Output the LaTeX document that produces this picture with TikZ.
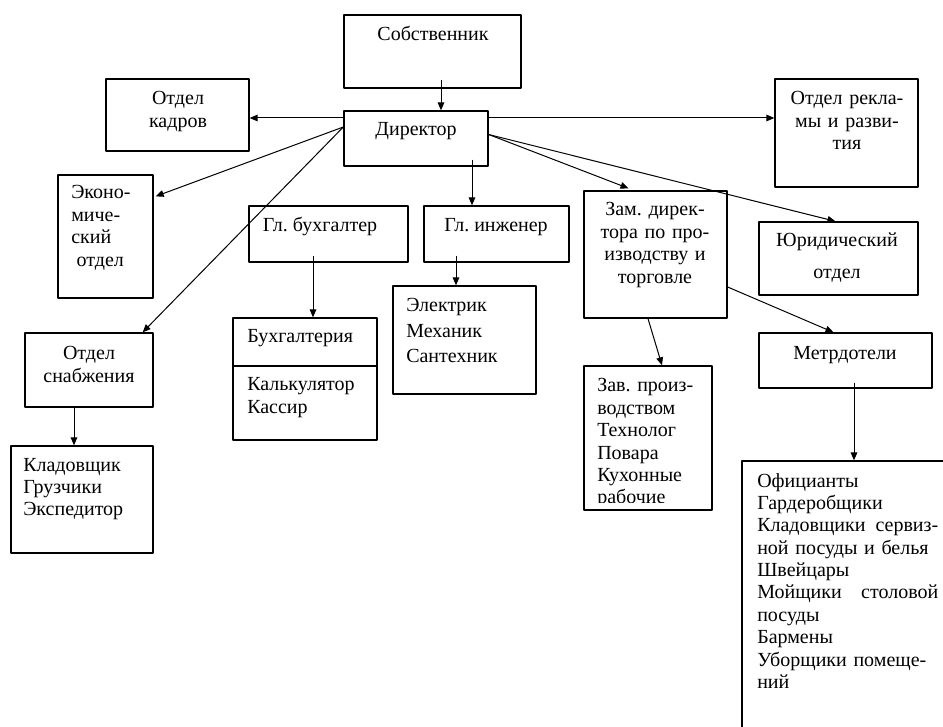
\documentclass[tikz,border=0pt]{standalone}
\usepackage{fontspec}
\setmainfont{Liberation Serif}
\usetikzlibrary{arrows.meta,calc,fit}
\tikzset{
	box/.style={draw, line width=1pt, inner sep=0pt},
	txt/.style={inner sep=0pt, font=\fontsize{15pt}{16.8pt}\selectfont\frenchspacing},
	link/.style={-{Triangle[length=6pt,width=5pt]}, line width=0.75pt},
}
\begin{document}
\begin{tikzpicture}[x=0.75pt, y=-0.75pt, line join=round]
		\useasboundingbox (0,0) rectangle (943,727);
		\clip (0,0) rectangle (943,727);
		\node[box, fit={(344,15) (521,88)}] (own) {};
		\node[box, fit={(344,111) (488,166)}] (dir) {};
		\node[box, fit={(106,79) (249,151)}] (kadr) {};
		\node[box, fit={(775,79) (918,187)}] (rekl) {};
		\node[box, fit={(58,175) (153,298)}] (econ) {};
		\node[box, fit={(249,206) (408,262)}] (glbuh) {};
		\node[box, fit={(424,206) (569,262)}] (glinzh) {};
		\node[box, fit={(584,191) (727,318)}] (zam) {};
		\node[box, fit={(759,222) (918,295)}] (yur) {};
		\node[box, fit={(25,333) (153,407)}] (snab) {};
		\node[box, fit={(233,318) (377,366)}] (buh) {};
		\node[box, fit={(233,366) (377,440)}] (buhstaff) {};
		\node[box, fit={(393,286) (536,394)}] (engst) {};
		\node[box, fit={(11,446) (153,553)}] (sklad) {};
		\node[box, fit={(584,366) (712,510)}] (zav) {};
		\node[box, fit={(759,333) (932,388)}] (metr) {};
		\node[box, fit={(742,461) (952,760)}] (ofic) {};
		\node[txt, anchor=base] (ownt) at (433,41) {Собственник};
		\node[txt, anchor=base] (dirt) at (416,136) {Директор};
		\node[txt, anchor=base, align=center, text width=100pt] (kadrt) at (178,105) {Отдел\\кадров};
		\node[txt, anchor=base, align=center, text width=100pt] (reklt) at (847,105) {Отдел рекла-\\мы и разви-\\тия};
		\node[txt, anchor=base west, align=left, text width=65pt] (econt) at (71,199) {Эконо-\\миче-\\ский\\\hspace*{4pt}отдел};
		\node[txt, anchor=base] (glbuht) at (320,232) {Гл. бухгалтер};
		\node[txt, anchor=base] (glinzht) at (496,232) {Гл. инженер};
		\node[txt, anchor=base, align=center, text width=100pt] (zamt) at (655,216) {Зам. дирек-\\тора по про-\\изводству и\\торговле};
		\node[txt, anchor=base, align=center, text width=110pt] (yurt) at (837,247) {Юридический\\[7pt]отдел};
		\node[txt, anchor=base, align=center, text width=90pt] (snabt) at (89,360) {Отдел\\снабжения};
		\node[txt, anchor=base west] (buht) at (247,343) {Бухгалтерия};
		\node[txt, anchor=base west, align=left, text width=100pt] (buhstafft) at (247,391) {Калькулятор\\Кассир};
		\node[txt, anchor=base west, align=left, text width=100pt] (engstt) at (406,312) {Электрик\\[2pt]Механик\\[2pt]Сантехник};
		\node[txt, anchor=base west, align=left, text width=100pt] (skladt) at (23,471) {Кладовщик\\Грузчики\\Экспедитор};
		\begin{scope}
		\clip (584,366) rectangle (712,502);
		\node[txt, anchor=base west, align=left, text width=90pt] (zavt) at (597,392) {Зав. произ-\\водством\\Технолог\\Повара\\Кухонные\\рабочие};
		\end{scope}
		\node[txt, anchor=base] (metrt) at (845,360) {Метрдотели};
		\node[txt, anchor=base west, align=left, text width=135.75pt] (ofict) at (757,487) {Официанты\\Гардеробщики\\Кладовщики\hfill сервиз-\\ной посуды и белья\\Швейцары\\Мойщики\hfill столовой\\посуды\\Бармены\\Уборщики помеще-\\ний};
		\draw[link] ($(own.south)+(8.5,-9)$) coordinate (p) -- (p |- dir.north);
		\draw[link] ($(dir.west)+(0,-20.5)$) coordinate (p) -- (p -| kadr.east);
		\draw[link] ($(dir.east)+(0,-20.5)$) coordinate (p) -- (p -| rekl.west);
		\draw[link] ($(dir.west)+(0,-11.5)$) -- ($(econ.north east)+(2,22)$);
		\draw[link] ($(dir.west)+(0,-11.5)$) -- ($(snab.north east)+(-11,0)$);
		\draw[link] ($(dir.south)+(56,-7)$) coordinate (p) -- (p |- glinzh.north);
		\draw[link] ($(dir.east)+(0,-4)$) -- ($(zam.north)+(-27,-2)$);
		\draw[link] ($(dir.east)+(0,-4)$) -- ($(yur.north)+(-3,0)$);
		\draw[link] ($(glbuh.south)+(-15.5,-7)$) coordinate (p) -- (p |- buh.north);
		\draw[link] ($(glinzh.south)+(-40.5,-7)$) coordinate (p) -- (p |- engst.north);
		\draw[link] ($(snab.south)+(-15,-1)$) coordinate (p) -- (p |- sklad.north);
		\draw[link] ($(zam.south)+(-7.5,0)$) -- ($(zav.north)+(14,0)$);
		\draw[link] ($(zam.east)+(0,32.5)$) -- ($(metr.north)+(-12,0)$);
		\draw[link] ($(metr.south)+(8.5,-6)$) coordinate (p) -- (p |- ofic.north);
\end{tikzpicture}
\end{document}
